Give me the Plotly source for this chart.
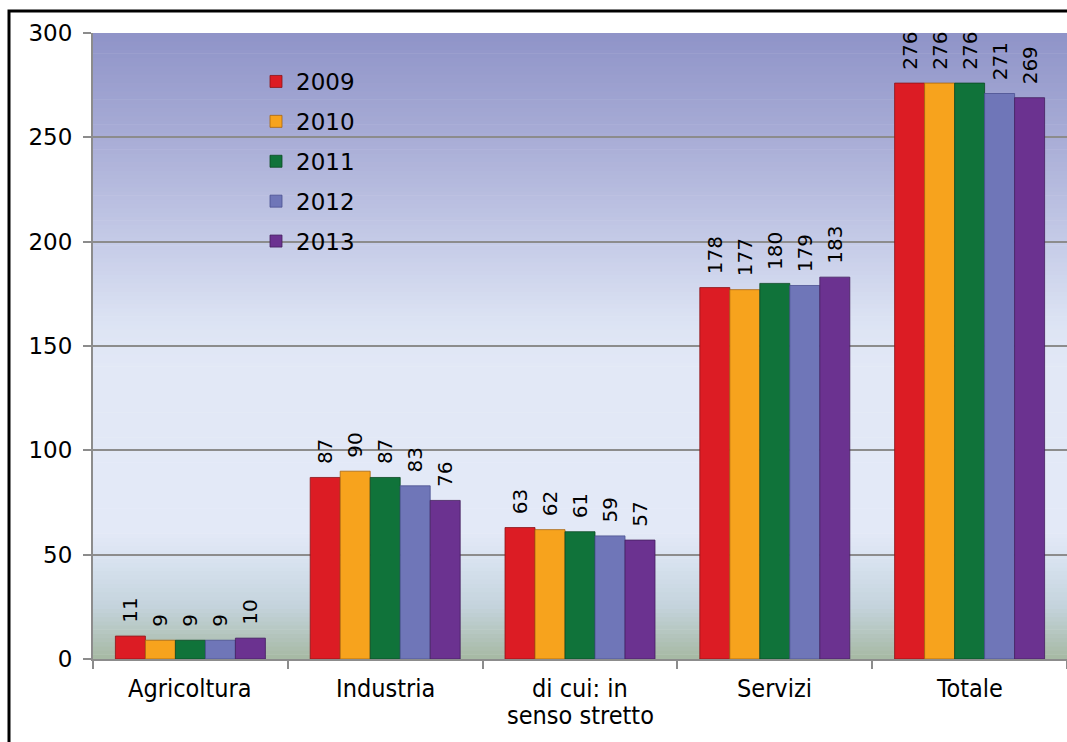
import plotly.graph_objects as go

categories = ["Agricoltura", "Industria", "di cui: in<br>senso stretto", "Servizi", "Totale"]
years = ["2009", "2010", "2011", "2012", "2013"]
v2009 = [11, 87, 63, 178, 276]
v2010 = [9, 90, 62, 177, 276]
v2011 = [9, 87, 61, 180, 276]
v2012 = [9, 83, 59, 179, 271]
v2013 = [10, 76, 57, 183, 269]
series = [v2009, v2010, v2011, v2012, v2013]
colors = ["#dc1c24", "#f7a31d", "#10733a", "#6f76b8", "#6b3290"]
edge_colors = ["#8a1418", "#a8650e", "#0b4a25", "#4a5090", "#44205e"]

W, H = 1067, 742
ML, MR, MT, MB = 93, 0, 33, 83
pw = W - ML - MR
ph = H - MT - MB

LABEL_PAD = "\u00a0\u2009"  # small lift of the value labels above the bars

fig = go.Figure()
for i, (yr, vals) in enumerate(zip(years, series)):
    fig.add_trace(go.Bar(
        x=categories, y=vals, name=yr, legendgroup=yr,
        marker=dict(color=colors[i], line=dict(color=edge_colors[i], width=0.8)),
        text=[LABEL_PAD + str(v) for v in vals], textposition="outside", textangle=-90,
        constraintext="none",
        textfont=dict(family="DejaVu Sans", size=20, color="#000000"),
        cliponaxis=False,
    ))

# background gradient (value-space colour stops)
stops = [(300, (0x8f, 0x94, 0xc8)), (250, (0xa8, 0xac, 0xd6)), (200, (0xc5, 0xcb, 0xe7)),
         (160, (0xdd, 0xe4, 0xf4)), (140, (0xe2, 0xe8, 0xf6)), (60, (0xe3, 0xe9, 0xf7)),
         (45, (0xd6, 0xe1, 0xee)), (25, (0xc4, 0xd3, 0xdc)), (0, (0xa6, 0xb9, 0xa3))]
stops = sorted(stops)
def col_at(v):
    for (a, ca), (b, cb) in zip(stops[:-1], stops[1:]):
        if a <= v <= b:
            t = (v - a) / (b - a) if b > a else 0
            c = [round(ca[k] + (cb[k] - ca[k]) * t) for k in range(3)]
            return "rgb(%d,%d,%d)" % tuple(c)
    return "rgb(226,232,246)"
n = 150
step = 300 / n
shapes = []
for k in range(n):
    y0 = k * step
    y1 = y0 + step + 0.3
    shapes.append(dict(type="rect", xref="paper", yref="y", x0=0, x1=1, y0=y0, y1=min(y1, 300),
                       fillcolor=col_at(y0 + step / 2), line=dict(width=0), layer="below"))
# outer black frame
shapes.append(dict(type="rect", xref="paper", yref="paper",
                   x0=(9 - ML) / pw, x1=(W + 20 - ML) / pw,
                   y0=-(H + 20 - (MT + ph)) / ph, y1=(MT + ph - 11) / ph,
                   line=dict(color="#000000", width=3), fillcolor="rgba(0,0,0,0)", layer="above"))

# category labels (split lines to keep tight line spacing)
annotations = []
for cat in categories:
    for j, line in enumerate(cat.split("<br>")):
        annotations.append(dict(x=cat, xref="x", y=0, yref="paper", yanchor="top",
                                text=line, showarrow=False, yshift=-13 - 27 * j,
                                font=dict(family="DejaVu Sans Condensed", size=25, color="#000000")))

fig.update_layout(
    width=W, height=H,
    margin=dict(l=ML, r=MR, t=MT, b=MB),
    paper_bgcolor="#ffffff", plot_bgcolor="rgba(0,0,0,0)",
    barmode="group", bargap=0.23, bargroupgap=0,
    shapes=shapes, annotations=annotations,
    showlegend=True,
    legend=dict(x=(256 - ML) / pw, y=(MT + ph - 60) / ph, xanchor="left", yanchor="top",
                bgcolor="rgba(0,0,0,0)", font=dict(family="DejaVu Sans", size=23, color="#000000"),
                tracegroupgap=7, itemwidth=30),
    font=dict(family="DejaVu Sans", color="#000000"),
)
fig.update_yaxes(range=[0, 300], dtick=50, showgrid=True, gridcolor="#8c8c8c", gridwidth=1.5,
                 showline=True, linecolor="#8c8c8c", linewidth=2,
                 ticks="outside", ticklen=8, tickcolor="#8c8c8c", tickwidth=2,
                 ticklabelstandoff=6,
                 tickfont=dict(family="DejaVu Sans", size=23, color="#000000"), zeroline=False)
fig.update_xaxes(showline=True, linecolor="#8c8c8c", linewidth=2, tickson="boundaries",
                 ticks="outside", ticklen=8, tickcolor="#8c8c8c", tickwidth=2,
                 showticklabels=False, mirror=False)

fig.write_html("out.html", config={"displayModeBar": False},
               post_script="document.body.style.margin='0';document.body.style.overflow='hidden';")
